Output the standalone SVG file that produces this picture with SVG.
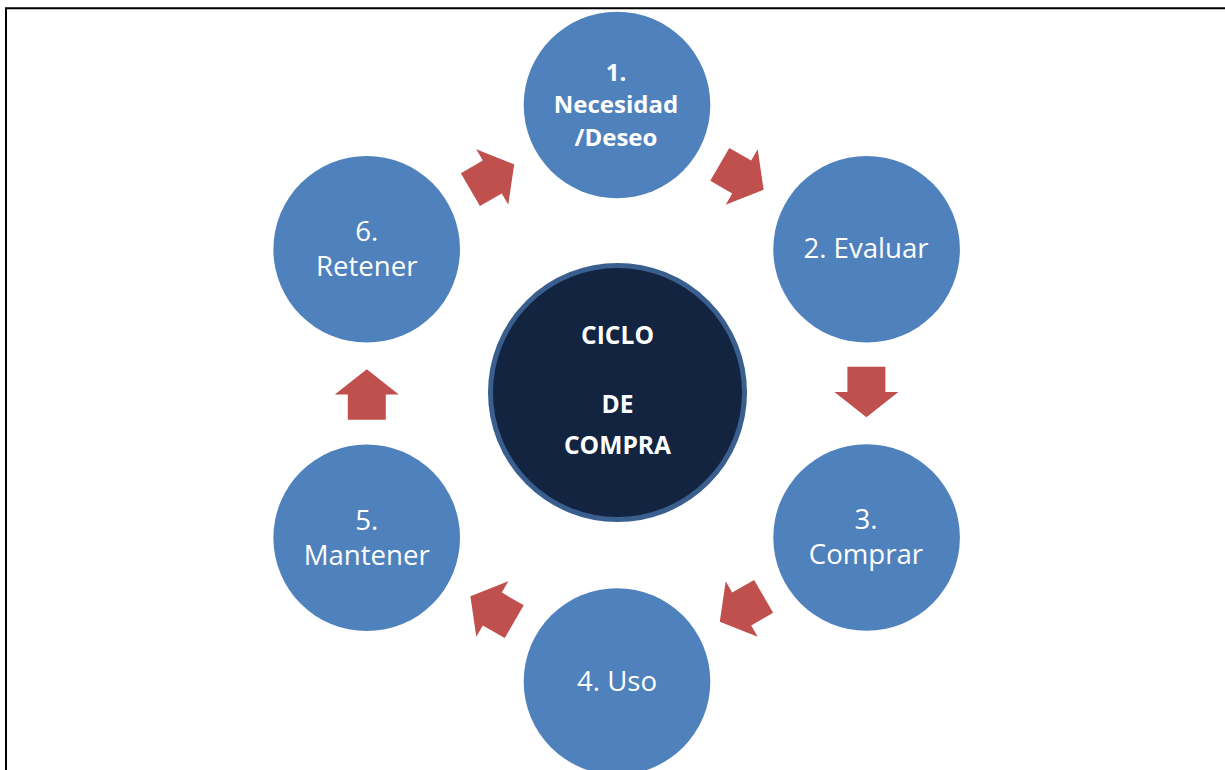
<svg xmlns="http://www.w3.org/2000/svg" width="1225" height="770" viewBox="0 0 1225 770">
  <style>
    .step { fill: #4F81BD; }
    .hub { fill: #12243F; stroke: #3A5F8E; stroke-width: 5; }
    .lbl { font-family: "Open Sans", "Liberation Sans", sans-serif; font-size: 27.6px; fill: #FFFFFF; text-anchor: middle; }
    .bold { font-weight: bold; font-size: 24px; }
    .big { font-size: 24.6px; }
    .arrow { fill: #C0504D; }
  </style>
  <defs>
    <!-- block arrow pointing along +x, centred on the head base -->
    <polygon id="blockArrow" points="-25.3,-19 0,-19 0,-32 25.3,0 0,32 0,19 -25.3,19"/>
  </defs>

  <rect width="1225" height="770" fill="#FFFFFF"/>
  <!-- page frame (top and left edges) -->
  <path d="M6,772 V8.3 H1227" fill="none" stroke="#000000" stroke-width="2"/>

  <g id="connectors">
    <use href="#blockArrow" class="arrow" transform="translate(741.7,177) rotate(30)"/>
    <use href="#blockArrow" class="arrow" transform="translate(866.4,392) rotate(90)"/>
    <use href="#blockArrow" class="arrow" transform="translate(741.7,609) rotate(150)"/>
    <use href="#blockArrow" class="arrow" transform="translate(492.3,609) rotate(210)"/>
    <use href="#blockArrow" class="arrow" transform="translate(366.8,394.5) rotate(270)"/>
    <use href="#blockArrow" class="arrow" transform="translate(492.3,177) rotate(330)"/>
  </g>

  <g id="hub">
    <circle class="hub" cx="617.5" cy="392.5" r="127"/>
    <text class="lbl bold big" x="617.5" y="344">CICLO</text>
    <text class="lbl bold big" x="617.5" y="413">DE</text>
    <text class="lbl bold big" x="617.5" y="454">COMPRA</text>
  </g>

  <g id="step1">
    <circle class="step" cx="617" cy="105" r="93.3"/>
    <text class="lbl bold" x="616" y="81">1.</text>
    <text class="lbl bold" x="616" y="113">Necesidad</text>
    <text class="lbl bold" x="616" y="146">/Deseo</text>
  </g>

  <g id="step2">
    <circle class="step" cx="866.6" cy="249.3" r="93.3"/>
    <text class="lbl" x="866" y="258">2. Evaluar</text>
  </g>

  <g id="step3">
    <circle class="step" cx="866.6" cy="537.5" r="93.3"/>
    <text class="lbl" x="866" y="529">3.</text>
    <text class="lbl" x="866" y="564">Comprar</text>
  </g>

  <g id="step4">
    <circle class="step" cx="617" cy="681.5" r="93.3"/>
    <text class="lbl" x="617" y="691">4. Uso</text>
  </g>

  <g id="step5">
    <circle class="step" cx="366.7" cy="537.8" r="93.3"/>
    <text class="lbl" x="366.7" y="530">5.</text>
    <text class="lbl" x="366.7" y="565">Mantener</text>
  </g>

  <g id="step6">
    <circle class="step" cx="366.7" cy="249.3" r="93.3"/>
    <text class="lbl" x="366.7" y="241">6.</text>
    <text class="lbl" x="366.7" y="276">Retener</text>
  </g>
</svg>
